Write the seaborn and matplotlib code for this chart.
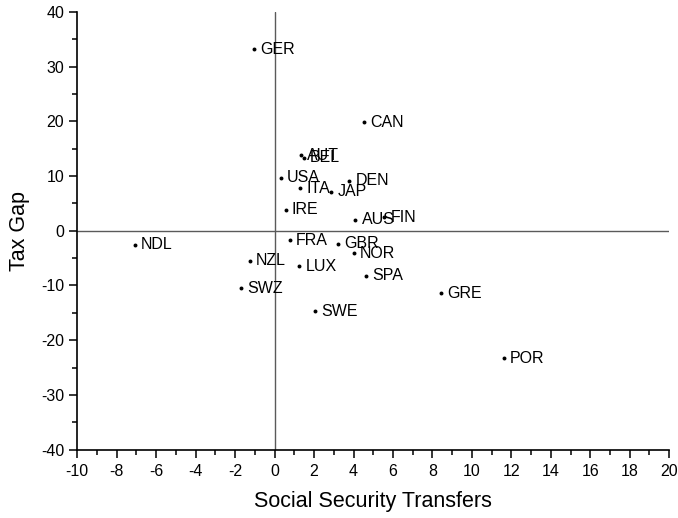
import matplotlib
matplotlib.use("Agg")
import matplotlib.pyplot as plt
import seaborn as sns
import pandas as pd
from matplotlib.ticker import MultipleLocator

countries = ["GER", "CAN", "AUT", "BEL", "USA", "DEN", "ITA", "JAP", "IRE", "AUS",
             "FIN", "FRA", "GBR", "NOR", "NZL", "LUX", "SPA", "SWZ", "SWE", "NDL",
             "GRE", "POR"]
social_security = [-1.03, 4.55, 1.32, 1.49, 0.30, 3.79, 1.30, 2.86, 0.56, 4.10,
                   5.57, 0.76, 3.23, 4.01, -1.27, 1.25, 4.64, -1.71, 2.06, -7.1,
                   8.41, 11.62]
tax_gap = [33.2, 19.8, 13.8, 13.3, 9.7, 9.1, 7.8, 7.1, 3.8, 2.0,
           2.5, -1.7, -2.4, -4.1, -5.5, -6.5, -8.2, -10.5, -14.7, -2.6,
           -11.4, -23.3]

df = pd.DataFrame({"country": countries, "ss": social_security, "tg": tax_gap})

sns.set_theme(style="ticks")
plt.rcParams["font.family"] = ["Liberation Sans", "DejaVu Sans"]
plt.rcParams["axes.unicode_minus"] = False

fig = plt.figure(figsize=(6.78, 5.18), dpi=100)
ax = fig.add_axes([0.114, 0.132, 0.873, 0.845])

ax.axhline(0, color="#5a5a5a", lw=1.0, zorder=1)
ax.axvline(0, color="#5a5a5a", lw=1.0, zorder=1)

sns.scatterplot(data=df, x="ss", y="tg", ax=ax, color="black", s=8,
                edgecolor="black", linewidth=0, zorder=3)

for c, x, y in zip(countries, social_security, tax_gap):
    ax.annotate(c, (x, y), xytext=(4.5, 0), textcoords="offset points",
                va="center", ha="left", fontsize=11.5, color="black")

ax.set_xlim(-10, 20)
ax.set_ylim(-40, 40)
ax.xaxis.set_major_locator(MultipleLocator(2))
ax.xaxis.set_minor_locator(MultipleLocator(1))
ax.yaxis.set_major_locator(MultipleLocator(10))
ax.yaxis.set_minor_locator(MultipleLocator(5))
ax.tick_params(which="major", direction="out", length=6, width=1.1, color="black",
               labelsize=11.5, labelcolor="black")
ax.tick_params(axis="x", which="major", pad=4)
ax.tick_params(axis="y", which="major", pad=3.5)
ax.tick_params(which="minor", direction="out", length=3.5, width=1.1, color="black")

for s in ["top", "right"]:
    ax.spines[s].set_visible(False)
for s in ["left", "bottom"]:
    ax.spines[s].set_color("black")
    ax.spines[s].set_linewidth(1.2)

ax.set_xlabel("Social Security Transfers", fontsize=15.5, labelpad=9, color="black")
ax.set_ylabel("Tax Gap", fontsize=15.5, labelpad=8, color="black")

fig.savefig("out.png", dpi=100)
